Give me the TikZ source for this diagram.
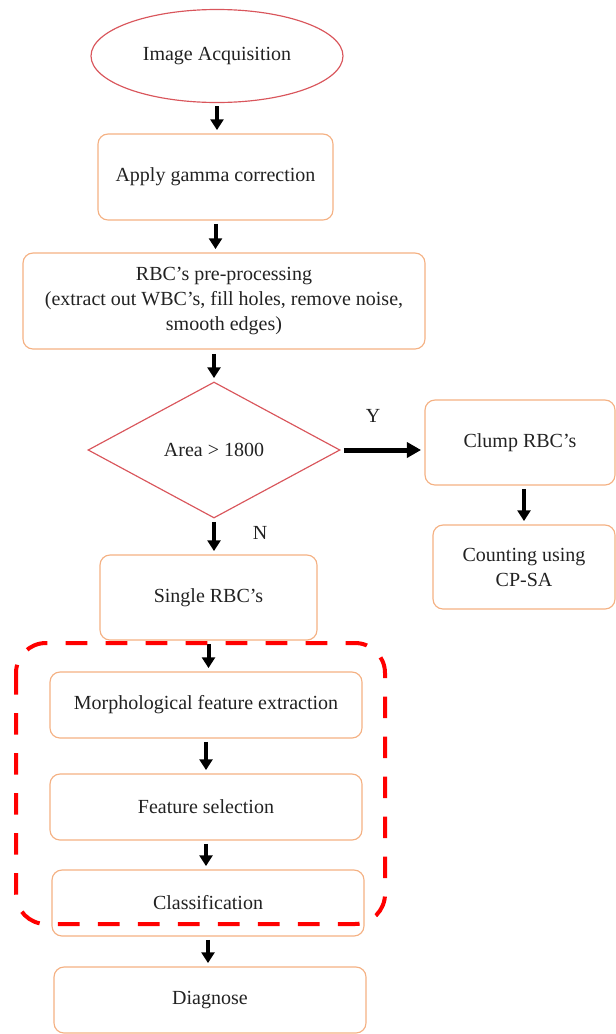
\documentclass[tikz,border=0pt]{standalone}
\usepackage{fontspec}
\setmainfont{Liberation Serif}
\usetikzlibrary{arrows.meta, shapes.geometric}
\definecolor{boxorange}{HTML}{F4B183}
\definecolor{ovalred}{HTML}{D9565C}
\definecolor{framered}{HTML}{FF0000}
\definecolor{txtgray}{HTML}{222222}

\begin{document}
\begin{tikzpicture}[
  x=0.6pt, y=-0.6pt,
  >={Triangle[length=6.5pt, width=7.8pt]},
  every node/.style={text=txtgray, font=\fontsize{12}{15}\selectfont},
  block/.style={rectangle, rounded corners=6pt, draw=boxorange, line width=0.7pt, minimum width=187.2pt, minimum height=39.6pt, align=center, inner sep=0pt},
  oval/.style={ellipse, draw=ovalred, line width=0.7pt, minimum width=151.2pt, minimum height=55.8pt, inner sep=0pt},
  cond/.style={diamond, draw=ovalred, line width=0.7pt, minimum width=151.2pt, minimum height=81.6pt, aspect=1.85, inner sep=0pt},
  arr/.style={->, line width=2.4pt, shorten <=2pt, shorten >=2pt},
]

% Canvas
\useasboundingbox (0,0) rectangle (616,1034);

% Start
\node[oval] (acq) at (217,56) {Image Acquisition};

% Main column
\node[block, minimum width=141pt, minimum height=51.6pt] (gamma) at (215.5,177) {Apply gamma correction};
\node[block, minimum width=241.2pt, minimum height=57.6pt] (prep) at (224,301)
  {RBC's pre-processing\\(extract out WBC's, fill holes, remove noise,\\smooth edges)};

% Decision
\node[cond] (area) at (214,450) {Area {\textgreater} 1800};

% Clump branch
\node[block, minimum width=114pt, minimum height=51pt] (clump) at (520,442.5) {Clump RBC's};
\node[block, minimum width=109.2pt, minimum height=50.4pt] (count) at (524,567) {Counting using\\CP-SA};

% Single branch
\node[block, minimum width=130.2pt, minimum height=51pt] (single) at (208.5,597.5) {Single RBC's};
\node[block] (morph) at (206,705) {Morphological feature extraction};
\node[block] (fsel) at (206,807) {Feature selection};
\node[block] (clf) at (208,903) {Classification};
\node[block] (diag) at (210,1000) {Diagnose};

% Arrows
\draw[arr] (acq.south) -- (acq.south |- gamma.north);
\draw[arr] (gamma.south) -- (gamma.south |- prep.north);
\draw[arr, shorten <=2.5pt] (area.north |- prep.south) -- (area.north);
\draw[arr] (area.south) -- (area.south |- single.north);
\draw[arr, line width=3pt, >={Triangle[length=8.5pt, width=9pt]}] (area.east) -- (area.east -| clump.west);
\draw[arr] (clump.south -| count.north) -- (count.north);
\draw[arr] (single.south) -- (single.south |- morph.north);
\draw[arr] (fsel.north |- morph.south) -- (fsel.north);
\draw[arr] (fsel.south) -- (fsel.south |- clf.north);
\draw[arr] (clf.south) -- (clf.south |- diag.north);

% Branch labels
\node (ylab) at (373,416) {Y};
\node (nlab) at (260,533) {N};

% Dashed frame round the feature stages
\draw[framered, line width=2.4pt, dash pattern=on 13pt off 11pt, rounded corners=18pt]
  (16,643) rectangle (385,924);

\end{tikzpicture}
\end{document}
